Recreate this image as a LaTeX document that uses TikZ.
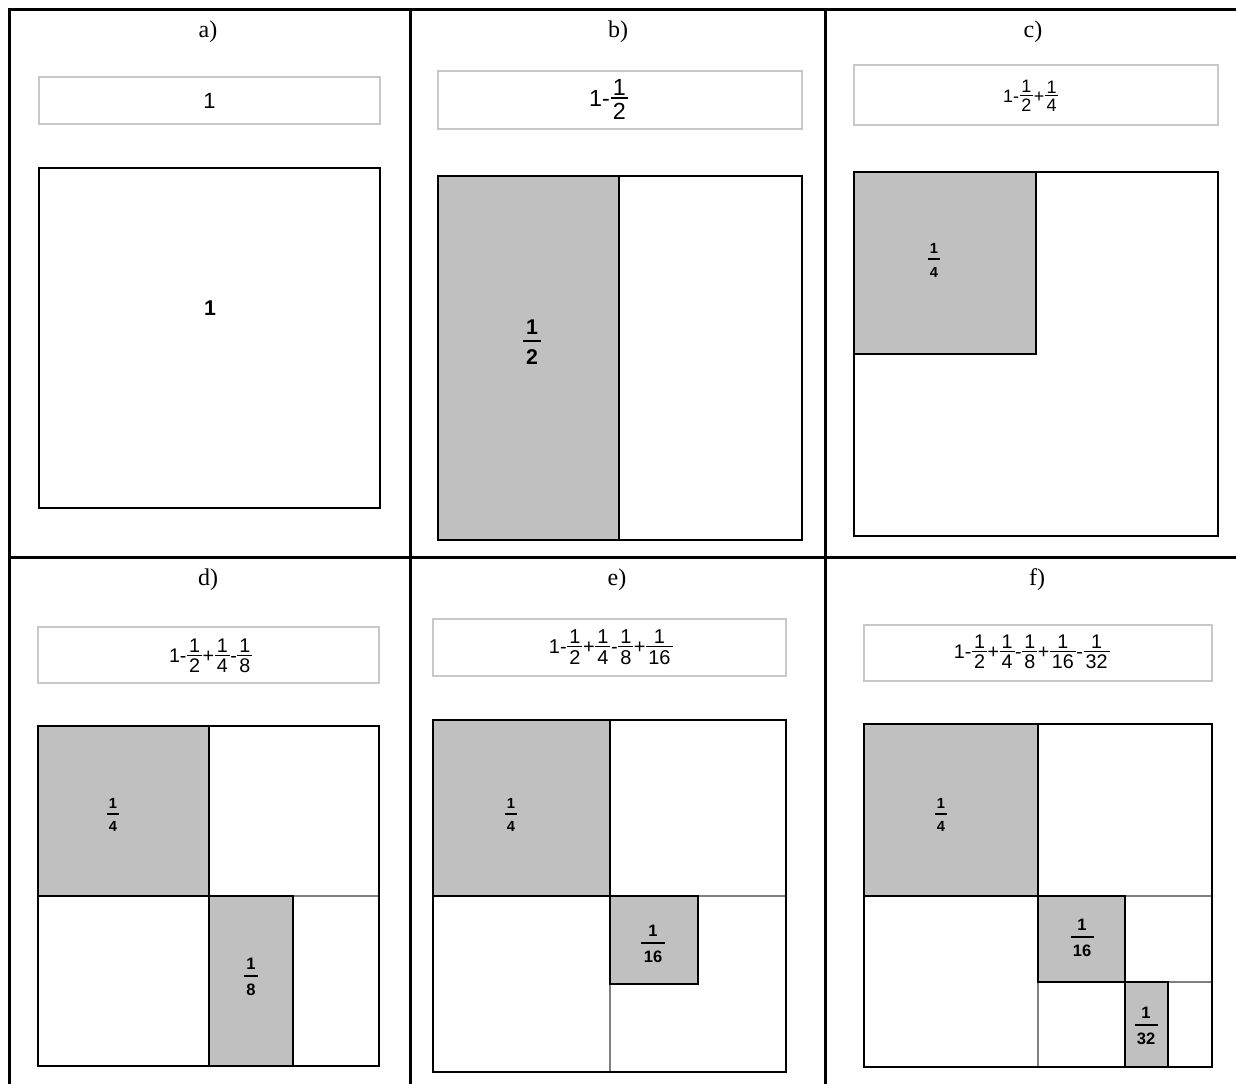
\documentclass[tikz,border=0pt]{standalone}
\usepackage{fontspec}
\setmainfont{Liberation Sans}
\newfontfamily\seriffont{Liberation Serif}
\def\fga{0.10em}\def\fgb{0.16em}\def\fbr{0.07em}\def\fov{0.10em}\def\fsp{0.03em}
\newcommand{\fr}[2]{\kern\fsp\raisebox{0.09em}{$\vcenter{\offinterlineskip\halign{\kern\fov\hfil##\hfil\kern\fov\cr\hbox{#1}\cr\noalign{\kern\fga\hrule height\fbr\kern\fgb}\hbox{#2}\cr}}$}\kern\fsp}
\definecolor{shade}{RGB}{192,192,192}
\definecolor{boxline}{RGB}{200,200,200}
\definecolor{thinline}{RGB}{128,128,128}
\begin{document}
\begin{tikzpicture}[x=0.75pt,y=-0.75pt,
  tablegrid/.style={line width=2.25pt,black},
  sq/.style={line width=1.7pt,black},
  thinrule/.style={line width=0.8pt,thinline},
  formulabox/.style={line width=1.1pt,draw=boxline,fill=white},
  shaded/.style={fill=shade},
  caption/.style={font=\seriffont\fontsize{18}{20}\selectfont,inner sep=0pt,anchor=base},
  ftext/.style={inner sep=0pt},
  lblbig/.style={inner sep=0pt,font=\bfseries\fontsize{16}{18}\selectfont\def\fga{0.24em}\def\fgb{0.32em}\def\fbr{0.13em}\def\fov{0.14em}},
  lblsmall/.style={inner sep=0pt,font=\bfseries\fontsize{11}{13}\selectfont\def\fga{0.32em}\def\fgb{0.50em}\def\fbr{0.12em}\def\fov{0.15em}},
  lblmid/.style={inner sep=0pt,font=\bfseries\fontsize{12.4}{14}\selectfont\def\fga{0.30em}\def\fgb{0.42em}\def\fbr{0.13em}\def\fov{0.14em}}]

\useasboundingbox (0,0) rectangle (1236,1083);
\fill[white] (0,0) rectangle (1236,1083);

% ---------- table grid ----------
\draw[tablegrid] (9,1095) -- (9,9) -- (1250,9);
\draw[tablegrid] (9,557) -- (1250,557);
\draw[tablegrid] (410,9) -- (410,1095);
\draw[tablegrid] (825,9) -- (825,1095);

% ---------- captions ----------
\node[caption] (capa) at (208,37) {a)};
\node[caption] (capb) at (618,37) {b)};
\node[caption] (capc) at (1033,37) {c)};
\node[caption] (capd) at (208,585) {d)};
\node[caption] (cape) at (617,585) {e)};
\node[caption] (capf) at (1037,585) {f)};

% ---------- formula boxes ----------
\draw[formulabox] (39,77) rectangle (380,124);
\node[ftext,font=\fontsize{16.5}{18}\selectfont] (fa) at (209.5,100.5) {1};

\draw[formulabox] (438,71) rectangle (802,129);
\node[ftext,font=\fontsize{17.5}{20}\selectfont] (fb) at (609,99) {1-\fr{1}{2}};

\draw[formulabox] (854,65) rectangle (1218,125);
\node[ftext,font=\fontsize{13.5}{15}\selectfont] (fc) at (1031,96) {1-\fr{1}{2}+\fr{1}{4}};

\draw[formulabox] (38,627) rectangle (379,683);
\node[ftext,font=\fontsize{14.8}{16}\selectfont] (fd) at (211,656) {1-\fr{1}{2}+\fr{1}{4}-\fr{1}{8}};

\draw[formulabox] (433,619) rectangle (786,676);
\node[ftext,font=\fontsize{15}{16}\selectfont] (fe) at (611,647) {1-\fr{1}{2}+\fr{1}{4}-\fr{1}{8}+\fr{1}{16}};

\draw[formulabox] (864,625) rectangle (1212,681);
\node[ftext,font=\fontsize{14.8}{16}\selectfont] (ff) at (1032,652) {1-\fr{1}{2}+\fr{1}{4}-\fr{1}{8}+\fr{1}{16}-\fr{1}{32}};

% ---------- panel a ----------
\draw[sq] (39,168) rectangle (380,508);
\node[lblbig] (la) at (210,308) {1};

% ---------- panel b ----------
\fill[shaded] (438,176) rectangle (619,540);
\draw[sq] (438,176) rectangle (802,540);
\draw[sq] (619,176) -- (619,540);
\node[lblbig] (lb) at (532,342) {\fr{1}{2}};

% ---------- panel c ----------
\fill[shaded] (854,172) rectangle (1036,354);
\draw[sq] (854,172) rectangle (1036,354);
\draw[sq] (854,172) rectangle (1218,536);
\node[lblsmall] (lc) at (934,260.5) {\fr{1}{4}};

% ---------- panel d ----------
\fill[shaded] (38,726) rectangle (209,896);
\fill[shaded] (209,896) rectangle (293,1066);
\draw[thinrule] (293,896) -- (379,896);
\draw[sq] (38,726) rectangle (209,896);
\draw[sq] (209,896) rectangle (293,1066);
\draw[sq] (38,726) rectangle (379,1066);
\node[lblsmall] (ld1) at (113,815) {\fr{1}{4}};
\node[lblmid] (ld2) at (251,977) {\fr{1}{8}};

% ---------- panel e ----------
\fill[shaded] (433,720) rectangle (610,896);
\fill[shaded] (610,896) rectangle (698,984);
\draw[thinrule] (698,896) -- (786,896);
\draw[thinrule] (610,984) -- (610,1072);
\draw[sq] (433,720) rectangle (610,896);
\draw[sq] (610,896) rectangle (698,984);
\draw[sq] (433,720) rectangle (786,1072);
\node[lblsmall] (le1) at (511,815) {\fr{1}{4}};
\node[lblmid] (le2) at (653,944) {\fr{1}{16}};

% ---------- panel f ----------
\fill[shaded] (864,724) rectangle (1038,896);
\fill[shaded] (1038,896) rectangle (1125,982);
\fill[shaded] (1125,982) rectangle (1168,1067);
\draw[thinrule] (1125,896) -- (1212,896);
\draw[thinrule] (1168,982) -- (1212,982);
\draw[thinrule] (1038,982) -- (1038,1067);
\draw[sq] (864,724) rectangle (1038,896);
\draw[sq] (1038,896) rectangle (1125,982);
\draw[sq] (1125,982) rectangle (1168,1067);
\draw[sq] (864,724) rectangle (1212,1067);
\node[lblsmall] (lf1) at (941,815) {\fr{1}{4}};
\node[lblmid] (lf2) at (1082,938) {\fr{1}{16}};
\node[lblmid] (lf3) at (1146,1026) {\fr{1}{32}};
\end{tikzpicture}
\end{document}
